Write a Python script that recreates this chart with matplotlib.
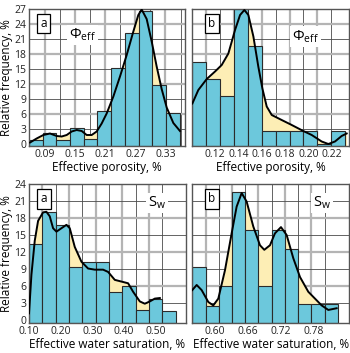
import matplotlib.pyplot as plt
import numpy as np

plt.rcParams['font.family'] = ['Open Sans', 'DejaVu Sans']

BAR_COLOR = '#6cc8dc'
FILL_COLOR = '#fdeeb5'
GRID_LIGHT = '#b4b4b4'
GRID_DARK = '#4a4a4a'

# ---- (a) effective porosity ----
phi_a_start, phi_a_width = 0.0588, 0.0272
phi_a_freq = [0.8, 2.2, 0.8, 3.3, 1.1, 6.6, 15.3, 22.3, 26.7, 11.8, 6.3]
phi_a_cx = [0.0608, 0.0740, 0.0873, 0.1005, 0.1138, 0.1237, 0.1337, 0.1436, 0.1535,
            0.1635, 0.1734, 0.1833, 0.1933, 0.2032, 0.2131, 0.2264, 0.2396, 0.2529,
            0.2661, 0.2760, 0.2827, 0.2926, 0.3026, 0.3125, 0.3224, 0.3324, 0.3456, 0.3588]
phi_a_cy = [0.3, 1.1, 1.8, 2.1, 1.6, 1.5, 1.8, 2.5, 2.8, 2.6, 1.8, 1.8, 2.5, 4.1,
            6.1, 9.5, 13.5, 17.8, 22.5, 25.8, 26.9, 25.0, 20.5, 15.5, 11.0, 7.3, 4.2, 2.6]
phi_a_ticks = [0.09, 0.15, 0.21, 0.27, 0.33]

# ---- (b) effective porosity ----
phi_b_start, phi_b_width = 0.1006, 0.01188
phi_b_freq = [16.5, 13.0, 9.7, 27.0, 19.7, 2.6, 2.6, 2.6, 2.6, 0.0, 2.6]
phi_b_cx = [0.1006, 0.1057, 0.1129, 0.1200, 0.1257, 0.1314, 0.1371, 0.1414, 0.1451,
            0.1485, 0.1528, 0.1570, 0.1605, 0.1642, 0.1685, 0.1770, 0.1856, 0.1955,
            0.2027, 0.2112, 0.2169, 0.2226, 0.2283, 0.2326]
phi_b_cy = [8.1, 10.8, 13.0, 14.5, 15.8, 18.1, 22.8, 25.8, 26.8, 25.8, 21.5, 15.5,
            11.1, 7.5, 5.8, 4.8, 3.8, 2.6, 1.8, 0.5, 0.0, 0.5, 1.6, 2.1]
phi_b_ticks = [0.12, 0.14, 0.16, 0.18, 0.20, 0.22]

# ---- (a) effective water saturation ----
sw_a_start, sw_a_width = 0.0999, 0.042
sw_a_freq = [13.5, 19.0, 16.8, 9.3, 10.3, 10.3, 5.0, 6.0, 1.8, 3.8, 1.6]
sw_a_cx = [0.0999, 0.1075, 0.1180, 0.1285, 0.1443, 0.1548, 0.1653, 0.1758, 0.1864,
           0.2021, 0.2179, 0.2284, 0.2442, 0.2652, 0.2862, 0.3073, 0.3336, 0.3493,
           0.3704, 0.3914, 0.4124, 0.4282, 0.4493, 0.4650, 0.4808, 0.4966, 0.5124]
sw_a_cy = [1.2, 8.0, 14.0, 17.5, 19.0, 19.1, 18.3, 16.2, 15.6, 16.2, 16.8, 16.2,
           12.9, 10.3, 9.1, 8.9, 8.9, 8.5, 7.1, 6.8, 6.5, 5.0, 3.3, 2.9, 3.3, 3.8, 3.9]
sw_a_ticks = [0.10, 0.20, 0.30, 0.40, 0.50]

# ---- (b) effective water saturation ----
sw_b_start, sw_b_width = 0.5585, 0.0242
sw_b_freq = [9.3, 2.5, 6.1, 22.5, 15.9, 6.1, 15.9, 12.6, 2.8, 2.8, 2.8]
sw_b_cx = [0.5585, 0.5665, 0.5756, 0.5878, 0.5969, 0.6061, 0.6183, 0.6305, 0.6396,
           0.6488, 0.6579, 0.6701, 0.6823, 0.6902, 0.7006, 0.7097, 0.7207, 0.7311,
           0.7433, 0.7555, 0.7707, 0.7829, 0.7951, 0.8073, 0.8225]
sw_b_cy = [5.3, 6.2, 5.3, 3.2, 2.6, 3.8, 8.8, 15.3, 20.0, 22.4, 20.9, 16.5, 13.2,
           12.4, 13.2, 15.3, 16.4, 15.0, 10.9, 7.6, 5.0, 3.8, 2.6, 1.8, 2.1]
sw_b_ticks = [0.60, 0.66, 0.72, 0.78]


def draw_panel(ax, start, width, freq, cx, cy, xlim, ymax, ybot, ticks, letter,
               title, title_pos, xgrid=None, ylabels=True):
    edges = start + width * np.arange(len(freq) + 1)
    if xgrid is None:
        xgrid = edges[1:-1]
    for i, g in enumerate(xgrid):
        if i % 2 == 0:
            ax.axvline(g, color=GRID_LIGHT, lw=1.6, zorder=0)
        else:
            ax.axvline(g, color=GRID_DARK, lw=0.6, zorder=0)
    for v in range(3, ymax, 3):
        if v % 6 == 0:
            ax.axhline(v, color=GRID_LIGHT, lw=1.6, zorder=0)
        else:
            ax.axhline(v, color=GRID_DARK, lw=0.6, zorder=0)

    # bars run down to the frame, which sits a little below zero
    ax.fill_between(cx, cy, ybot, color=FILL_COLOR, lw=0, zorder=1)
    ax.bar(edges[:-1], [f - ybot for f in freq], bottom=ybot, width=width,
           align='edge', color=BAR_COLOR, edgecolor='#2b2b2b', linewidth=0.8,
           zorder=2)
    ax.plot(cx, cy, color='black', lw=1.4, zorder=3)

    ax.set_xlim(*xlim)
    ax.set_ylim(ybot, ymax)
    ax.set_xticks(ticks)
    ax.set_xticklabels(['%.2f' % t for t in ticks])
    ax.set_yticks(range(0, ymax + 1, 3))
    if not ylabels:
        ax.set_yticklabels([])
    ax.tick_params(length=0, pad=2, labelsize=7.5, colors='#222222')
    for s in ax.spines.values():
        s.set_color('#555555')
        s.set_linewidth(1.0)

    ax.text(*title_pos, title, transform=ax.transAxes, fontsize=10.5,
            ha='center', va='center', zorder=5,
            bbox=dict(facecolor='white', edgecolor='none', pad=1.5))
    ax.text(0.095 if ylabels else 0.125, 0.893, letter, transform=ax.transAxes,
            fontsize=8.5, ha='center', va='center', zorder=5,
            bbox=dict(facecolor='white', edgecolor='black', lw=0.9,
                      boxstyle='square,pad=0.28'))


fig = plt.figure(figsize=(3.5, 3.53), dpi=100)
ax1 = fig.add_axes([0.0829, 0.5864, 0.4457, 0.3881])
ax2 = fig.add_axes([0.5486, 0.5864, 0.4486, 0.3881])
ax3 = fig.add_axes([0.0829, 0.0850, 0.4486, 0.3938])
ax4 = fig.add_axes([0.5494, 0.0850, 0.4477, 0.3938])

phi_label = 'Φ$_{\\mathregular{eff}}$'
sw_label = 'S$_{\\mathregular{w}}$'

draw_panel(ax1, phi_a_start, phi_a_width, phi_a_freq, phi_a_cx, phi_a_cy,
           (0.0588, 0.3688), 27, -0.4, phi_a_ticks, 'a', phi_label, (0.34, 0.81),
           xgrid=[0.09, 0.12, 0.15, 0.18, 0.21, 0.24, 0.27, 0.30, 0.33, 0.36])
draw_panel(ax2, phi_b_start, phi_b_width, phi_b_freq, phi_b_cx, phi_b_cy,
           (0.1003, 0.2346), 27, -0.4, phi_b_ticks, 'b', phi_label, (0.72, 0.80),
           ylabels=False)
draw_panel(ax3, sw_a_start, sw_a_width, sw_a_freq, sw_a_cx, sw_a_cy,
           (0.0999, 0.595), 24, -0.5, sw_a_ticks, 'a', sw_label, (0.815, 0.863))
draw_panel(ax4, sw_b_start, sw_b_width, sw_b_freq, sw_b_cx, sw_b_cy,
           (0.5585, 0.8451), 24, -0.5, sw_b_ticks, 'b', sw_label, (0.83, 0.863),
           ylabels=False)

for ax in (ax1, ax2):
    ax.set_xlabel('Effective porosity, %', fontsize=8.5, labelpad=1)
for ax in (ax3, ax4):
    ax.set_xlabel('Effective water saturation, %', fontsize=8.5, labelpad=1)
for ax in (ax1, ax3):
    ax.set_ylabel('Relative frequency, %', fontsize=8.5, labelpad=1)

fig.savefig('out.png', dpi=100)
